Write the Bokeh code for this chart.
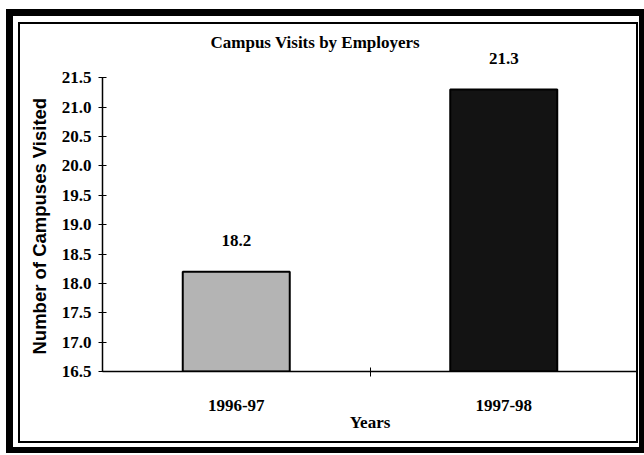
from bokeh.plotting import figure
from bokeh.models import (FactorRange, Range1d, LinearAxis, FixedTicker, Title,
                          ColumnDataSource, PrintfTickFormatter)
from bokeh.core.properties import value
from bokeh.embed import file_html
from bokeh.resources import INLINE

# ---- data ----
categories = ["1996-97", "1997-98"]
visits = [18.2, 21.3]
value_labels = ["18.2", "21.3"]
bar_colors = ["#b4b4b4", "#131313"]
y_ticks = [16.5, 17.0, 17.5, 18.0, 18.5, 19.0, 19.5, 20.0, 20.5, 21.0, 21.5]
title_text = "Campus Visits by Employers"
y_title = "Number of Campuses Visited"
x_title = "Years"

SERIF = "Liberation Serif"
SANS = "Liberation Sans"

src = ColumnDataSource(dict(cat=categories, val=visits, lab=value_labels, col=bar_colors))

p = figure(width=644, height=455,
           x_range=FactorRange(*categories),
           y_range=Range1d(y_ticks[0], 22.0),
           x_axis_location=None,
           output_backend="svg", toolbar_location=None,
           min_border_left=102, min_border_right=7, min_border_top=48, min_border_bottom=84)

p.outline_line_color = None
p.xgrid.visible = False
p.ygrid.visible = False
p.background_fill_color = None
p.border_fill_color = None

# double frame round the chart (page decoration, drawn with CSS backgrounds)
frame_rects = [  # x, y, w, h in px
    (6, 9, 7, 444), (6, 9, 638, 7), (639, 9, 5, 444), (6, 447, 638, 6),
    (18, 22, 2, 421), (18, 22, 620, 2), (636, 22, 2, 421), (18, 441, 620, 2),
]
p.styles = {
    "background-color": "white",
    "background-repeat": "no-repeat",
    "background-image": ", ".join(["linear-gradient(#000, #000)"] * len(frame_rects)),
    "background-size": ", ".join(f"{w}px {h}px" for x, y, w, h in frame_rects),
    "background-position": ", ".join(f"{x}px {y}px" for x, y, w, h in frame_rects),
}

# title
p.title.text = title_text
p.title.align = "left"
p.title.offset = 108
p.title.text_font = SERIF
p.title.text_font_style = "bold"
p.title.text_font_size = "17px"
p.title.text_color = "black"
p.title.standoff = -6

# bars
p.vbar(x="cat", top="val", bottom=y_ticks[0], width=0.4, source=src,
       fill_color="col", line_color="black", line_width=2)

# value labels
p.text(x="cat", y="val", text="lab", source=src, text_align="center", text_baseline="bottom",
       y_offset=-26, text_font=value(SERIF), text_font_style="bold", text_font_size="17px",
       text_color="black")

# y axis
ya = p.yaxis[0]
ya.ticker = FixedTicker(ticks=y_ticks)
ya.formatter = PrintfTickFormatter(format="%.1f")
ya.bounds = (y_ticks[0], y_ticks[-1])
ya.major_tick_in = 4
ya.major_tick_out = 4
ya.minor_tick_line_color = None
ya.axis_line_width = 1.5
ya.major_tick_line_width = 1
ya.major_label_standoff = 7
ya.major_label_text_font = SERIF
ya.major_label_text_font_style = "bold"
ya.major_label_text_font_size = "17px"
ya.major_label_text_color = "black"

# y axis title, placed along the axis bounds
ytitle = Title(text=y_title, align="left", offset=17, standoff=18,
               text_font=SANS, text_font_style="bold", text_font_size="18.5px", text_color="black")
p.add_layout(ytitle, "left")

# x axis: labels at the category centres, a single tick between the categories
centres = [i + 0.5 for i in range(len(categories))]
edges = list(range(1, len(categories)))
xa = LinearAxis(ticker=FixedTicker(ticks=centres, minor_ticks=edges),
                major_label_overrides={c: name for c, name in zip(centres, categories)},
                major_tick_line_color=None, major_tick_in=0, major_tick_out=0,
                minor_tick_in=4, minor_tick_out=5, minor_tick_line_color="black",
                axis_line_width=1.5, major_label_standoff=23,
                major_label_text_font=SERIF, major_label_text_font_style="bold",
                major_label_text_font_size="17px", major_label_text_color="black",
                axis_label=x_title, axis_label_standoff=-1,
                axis_label_text_font=SERIF, axis_label_text_font_style="bold",
                axis_label_text_font_size="17px", axis_label_text_color="black")
p.add_layout(xa, "below")

open("out.html", "w").write(file_html(p, INLINE))
